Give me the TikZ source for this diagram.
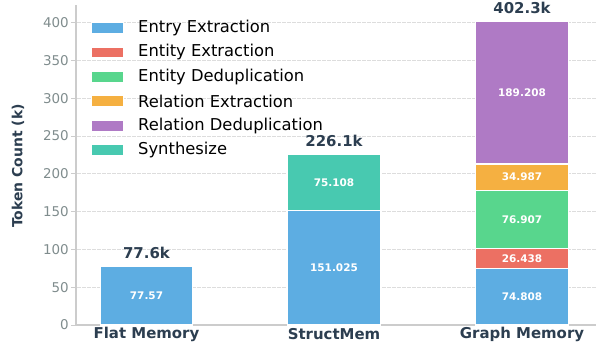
\documentclass[tikz,border=0pt]{standalone}
\usepackage{fontspec}
\setmainfont{DejaVu Sans}
\definecolor{cEntry}{HTML}{5DADE2}
\definecolor{cEntExt}{HTML}{EC7063}
\definecolor{cEntDed}{HTML}{58D68D}
\definecolor{cRelExt}{HTML}{F5B041}
\definecolor{cRelDed}{HTML}{AF7AC5}
\definecolor{cSyn}{HTML}{48C9B0}
\definecolor{darktxt}{HTML}{2C3E50}
\definecolor{ticktxt}{HTML}{7F8C8D}
\definecolor{spinec}{HTML}{CCCCCC}
\definecolor{gridc}{HTML}{DDDDDD}
\newcommand\barseg[6]{%
  \path[fill=#5,draw=white,line width=1.2bp] (#2-46.25,#3) rectangle (#2+46.25,#4);
  \node[seglabel] (#1) at (#2,{(#3+#4)/2}) {#6};}
\tikzset{
  seglabel/.style={text=white,font=\fontsize{10.5}{12}\selectfont\bfseries,inner sep=0pt},
  totlabel/.style={text=darktxt,font=\fontsize{15}{18}\selectfont\bfseries,inner sep=0pt},
  catlabel/.style={text=darktxt,font=\fontsize{15}{18}\selectfont\bfseries,inner sep=0pt},
  ticklabel/.style={text=ticktxt,font=\fontsize{13.5}{16}\selectfont,inner sep=0pt,anchor=east},
  legtext/.style={text=black,font=\fontsize{16.4}{19}\selectfont,inner sep=0pt,anchor=west},
  legpatch/.style={minimum width=32bp,minimum height=10.7bp,inner sep=0pt,draw=white,line width=0.6bp},
  gridline/.style={draw=gridc,line width=0.8bp,dash pattern=on 3.5bp off 1.5bp},
}
\begin{document}
\begin{tikzpicture}[x=1bp,y=1bp]
\useasboundingbox (0,0) rectangle (596,349);
\begin{scope}[shift={(0,24)},y=0.7557bp]
  % grid
  \foreach \v in {50,100,...,400}{
    \draw[gridline] (77,\v) -- (596,\v);
    \draw[spinec,line width=0.8bp] (71,\v) -- (76,\v);
    \node[ticklabel] (t\v) at (69,\v) {\v};
  }
  \draw[spinec,line width=0.8bp] (71,0) -- (76,0);
  \node[ticklabel] (t0) at (69,0) {0};
  % spines
  \draw[spinec,line width=1.2bp] (76,0) -- (76,423);
  \draw[spinec,line width=1.6bp] (76,0) -- (596,0);
  % Flat Memory
  \barseg{fa}{146.5}{0}{77.57}{cEntry}{77.57}
  \node[totlabel] (ftot) at (146.5,77.57) [yshift=13bp] {77.6k};
  % StructMem
  \barseg{sa}{334}{0}{151.025}{cEntry}{151.025}
  \barseg{sb}{334}{151.025}{226.133}{cSyn}{75.108}
  \node[totlabel] (stot) at (334,226.133) [yshift=13bp] {226.1k};
  % Graph Memory
  \barseg{ga}{522}{0}{74.808}{cEntry}{74.808}
  \barseg{gb}{522}{74.808}{101.246}{cEntExt}{26.438}
  \barseg{gc}{522}{101.246}{178.153}{cEntDed}{76.907}
  \barseg{gd}{522}{178.153}{213.14}{cRelExt}{34.987}
  \barseg{ge}{522}{213.14}{402.348}{cRelDed}{189.208}
  \node[totlabel] (gtot) at (522,402.348) [yshift=13bp] {402.3k};
\end{scope}
% category labels
\node[catlabel] (xf) at (146.5,15) {Flat Memory};
\node[catlabel] (xs) at (334,15) {StructMem};
\node[catlabel] (xg) at (522,15) {Graph Memory};
% y label
\node[catlabel,font=\fontsize{14}{17}\selectfont\bfseries,rotate=90] (ylab) at (18,183) {Token Count (k)};
% legend
\foreach \c/\t/\yy [count=\i] in {cEntry/Entry Extraction/321.3,cEntExt/Entity Extraction/296.7,cEntDed/Entity Deduplication/272.3,cRelExt/Relation Extraction/248,cRelDed/Relation Deduplication/223.3,cSyn/Synthesize/199.3}{
  \node[legpatch,fill=\c] (lp\i) at (107,\yy) {};
  \node[legtext] (lt\i) at (138,\yy) {\t};
}
\end{tikzpicture}
\end{document}
